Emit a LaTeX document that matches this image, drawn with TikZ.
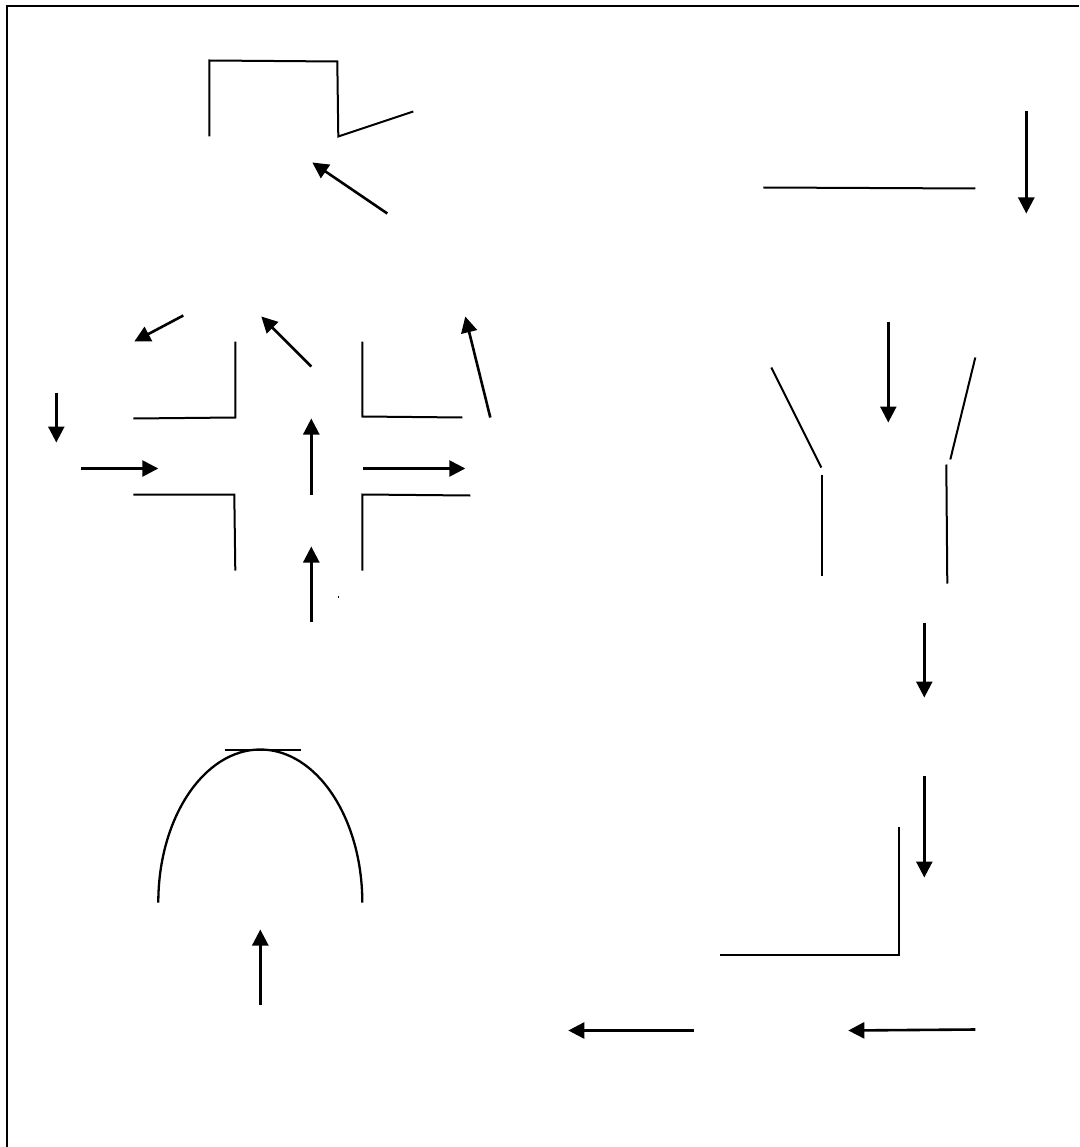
\documentclass[tikz,border=0pt]{standalone}
\usetikzlibrary{arrows.meta}
\tikzset{
  line/.style={line width=2pt,black,line join=miter},
  flow/.style={line width=2.6pt,black,-{Triangle[length=16pt,width=16pt]}},
  frame/.style={line width=2.6pt,black}
}
\begin{document}
\begin{tikzpicture}[x=1pt,y=-1pt]
\useasboundingbox (0,0) rectangle (1079,1147);
\fill[white] (0,0) rectangle (1079,1147);
% frame: open at right and bottom
\draw[frame] (7,1147) -- (7,6) -- (1079,6);
\begin{scope}[shift={(0.3,0.5)}]
% top-left bracket
\draw[line] (209,136) -- (209,60) -- (337,61) -- (338,136) -- (413,111);
\draw[flow] (387,213) -- (312,162);
% top-right
\draw[line] (763,187) -- (975,188);
\draw[flow] (1026,111) -- (1026,213);
% crossing
\draw[line] (133,418) -- (235,417) -- (235,341);
\draw[line] (362,341) -- (362,416) -- (462,417);
\draw[line] (133,494) -- (234,494) -- (235,570);
\draw[line] (362,570) -- (362,494) -- (470,495);
\draw[flow] (183,315) -- (134,341);
\draw[flow] (311,366) -- (261,316);
\draw[flow] (490,417) -- (465,316);
\draw[flow] (56,392) -- (56,442);
\draw[flow] (81,468) -- (158,468);
\draw[flow] (311,494) -- (311,418);
\draw[flow] (363,468) -- (465,468);
\draw[flow] (311,621) -- (311,546);
\fill (337.6,595) rectangle (338.6,597);
% Y shape
\draw[line] (771,367) -- (821,467);
\draw[line] (822,474) -- (822,575);
\draw[line] (975,357) -- (950,459);
\draw[line] (946,464) -- (947,583);
\draw[flow] (888,321) -- (888,422);
\draw[flow] (924,622) -- (924,697);
% corner bottom-right
\draw[flow] (924,775) -- (924,877);
\draw[line] (899,826) -- (899,954) -- (720,954);
\draw[flow] (975,1029) -- (848,1030);
\draw[flow] (694,1030) -- (568,1030);
% dome
\draw[line] (225,749) -- (301,749);
\draw[line,line width=2.3pt] (158,902) arc[start angle=180,end angle=360,x radius=102,y radius=153];
\draw[flow] (260,1004) -- (260,929);
\end{scope}
\end{tikzpicture}
\end{document}
